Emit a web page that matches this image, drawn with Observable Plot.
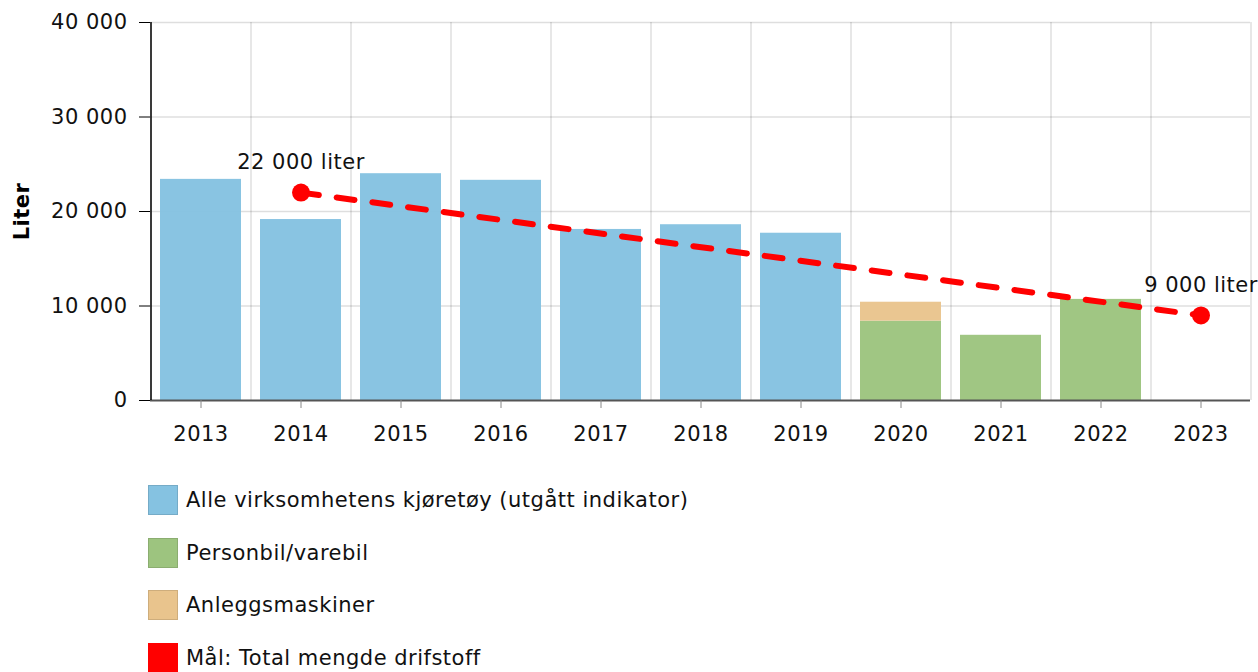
<!DOCTYPE html>
<html>
<head>
<meta charset="utf-8">
<script src="https://cdn.jsdelivr.net/npm/d3@7"></script>
<script src="https://cdn.jsdelivr.net/npm/@observablehq/plot@0.6"></script>
<style>
  body { margin: 0; background: #fff; font-family: "DejaVu Sans", Verdana, sans-serif; }
  #chart svg { display: block; letter-spacing: 0.5px; }
  .legend { margin-left: 148px; margin-top: 15px; font-size: 21px; letter-spacing: 0.5px; color: #111; }
  .legend .item { display: flex; align-items: center; height: 30px; margin-bottom: 22.6px; }
  .legend .sw { width: 28px; height: 28px; margin-right: 8px; box-sizing: content-box; }
</style>
</head>
<body>
<div id="chart"></div>
<div class="legend" id="legend"></div>
<script>
const years = ["2013","2014","2015","2016","2017","2018","2019","2020","2021","2022","2023"];
const alleKjoretoy = [23400, 19150, 24000, 23300, 18100, 18600, 17700, null, null, null, null];
const personbil   = [null, null, null, null, null, null, null, 8400, 6900, 10700, null];
const anlegg      = [null, null, null, null, null, null, null, 2000, null, null, null];
const goalYears = ["2014", "2023"];
const goalValues = [22000, 9000];
const goalLabels = ["22 000 liter", "9 000 liter"];
const seriesNames = ["Alle virksomhetens kjøretøy (utgått indikator)", "Personbil/varebil", "Anleggsmaskiner"];
const seriesColors = ["#85c2e1", "#9dc47f", "#e9c48d"];
const goalName = "Mål: Total mengde drifstoff";
const yTicks = [0, 10000, 20000, 30000, 40000];

const rows = [];
years.forEach((yr, i) => {
  if (alleKjoretoy[i] != null) rows.push({year: yr, series: seriesNames[0], value: alleKjoretoy[i]});
  if (personbil[i] != null) rows.push({year: yr, series: seriesNames[1], value: personbil[i]});
  if (anlegg[i] != null) rows.push({year: yr, series: seriesNames[2], value: anlegg[i]});
});
const goal = goalYears.map((yr, i) => ({year: yr, value: goalValues[i], label: goalLabels[i]}));
const fmt = v => d3.format(",")(v).replace(/,/g, " ");

const chart = Plot.plot({
  width: 1258,
  height: 470,
  marginLeft: 150,
  marginRight: 8,
  marginTop: 22,
  marginBottom: 70,
  style: {fontSize: "21px", fontFamily: "DejaVu Sans, Verdana, sans-serif", color: "#111", background: "#fff"},
  x: {domain: years, paddingInner: 0.19, paddingOuter: 0.095, label: null},
  y: {domain: [0, 40000], label: null},
  color: {domain: seriesNames, range: seriesColors},
  marks: [
    Plot.ruleY(yTicks.slice(1), {stroke: "#000", strokeOpacity: 0.13, strokeWidth: 1.5}),
    Plot.ruleX(years, {x: d => d, dx: -50, stroke: "#000", strokeOpacity: 0.13, strokeWidth: 1.5}),
    Plot.ruleX([years[years.length - 1]], {x: d => d, dx: 50, stroke: "#000", strokeOpacity: 0.13, strokeWidth: 1.5}),
    Plot.barY(rows, {x: "year", y: "value", fill: "series", fillOpacity: 0.97}),
    Plot.ruleY([0], {stroke: "#555", strokeWidth: 2}),
    Plot.ruleX([years[0]], {x: d => d, dx: -50, y1: 0, y2: 40000, stroke: "#000", strokeWidth: 1.5}),
    Plot.axisY({ticks: yTicks, tickFormat: fmt, tickSize: 11, tickPadding: 12, stroke: "#000", label: null}),
    Plot.axisX({tickSize: 8, tickPadding: 18, stroke: "#888", label: null}),
    Plot.text(["Liter"], {frameAnchor: "left", dx: -128, rotate: -90, textAnchor: "middle", fontWeight: "bold", fontSize: 21, fill: "#000"}),
    Plot.line(goal, {x: "year", y: "value", stroke: "#ff0000", strokeWidth: 6, strokeDasharray: "18,18"}),
    Plot.dot(goal, {x: "year", y: "value", r: 9, fill: "#ff0000"}),
    Plot.text(goal, {x: "year", y: "value", text: "label", dy: -30, fontSize: 21, fill: "#111"})
  ]
});
document.getElementById("chart").append(chart);

const legendItems = seriesNames.map((n, i) => ({name: n, color: seriesColors[i], border: d3.color(seriesColors[i]).darker(0.35).formatHex()}));
legendItems.push({name: goalName, color: "#ff0000", border: "#ff0000"});
const lg = document.getElementById("legend");
legendItems.forEach(it => {
  const row = document.createElement("div");
  row.className = "item";
  const sw = document.createElement("div");
  sw.className = "sw";
  sw.style.background = it.color;
  sw.style.border = "1.5px solid " + it.border;
  const t = document.createElement("span");
  t.textContent = it.name;
  row.append(sw, t);
  lg.append(row);
});
</script>
</body>
</html>
